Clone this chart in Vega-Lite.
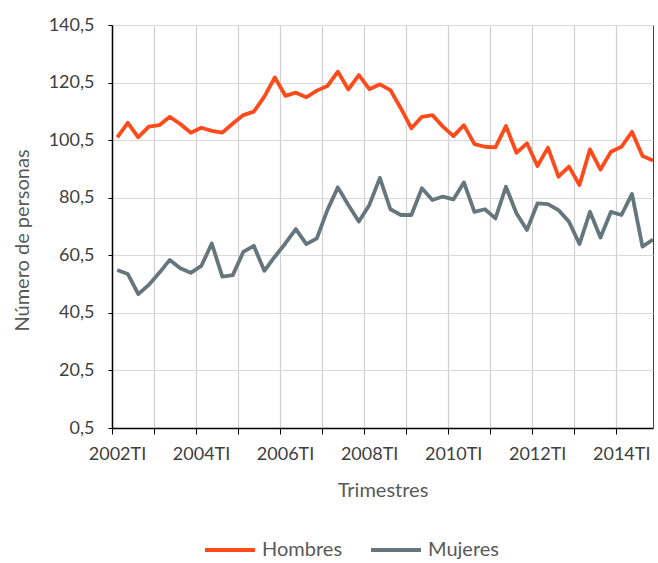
{
  "$schema": "https://vega.github.io/schema/vega-lite/v6.json",
  "width": 541,
  "height": 403,
  "autosize": "none",
  "padding": {"left": 112, "top": 25, "right": 5, "bottom": 135},
  "background": "white",
  "config": {"font": "Lato", "view": {"stroke": "#404040", "strokeWidth": 1}},
  "data": {"values": [
    {"t": 0, "trimestre": "2002TI", "serie": "Hombres", "valor": 101.5},
    {"t": 1, "trimestre": "2002TII", "serie": "Hombres", "valor": 106.5},
    {"t": 2, "trimestre": "2002TIII", "serie": "Hombres", "valor": 101.5},
    {"t": 3, "trimestre": "2002TIV", "serie": "Hombres", "valor": 105.2},
    {"t": 4, "trimestre": "2003TI", "serie": "Hombres", "valor": 105.7},
    {"t": 5, "trimestre": "2003TII", "serie": "Hombres", "valor": 108.6},
    {"t": 6, "trimestre": "2003TIII", "serie": "Hombres", "valor": 106.1},
    {"t": 7, "trimestre": "2003TIV", "serie": "Hombres", "valor": 103.1},
    {"t": 8, "trimestre": "2004TI", "serie": "Hombres", "valor": 104.8},
    {"t": 9, "trimestre": "2004TII", "serie": "Hombres", "valor": 103.7},
    {"t": 10, "trimestre": "2004TIII", "serie": "Hombres", "valor": 103.1},
    {"t": 11, "trimestre": "2004TIV", "serie": "Hombres", "valor": 106.3},
    {"t": 12, "trimestre": "2005TI", "serie": "Hombres", "valor": 109.2},
    {"t": 13, "trimestre": "2005TII", "serie": "Hombres", "valor": 110.4},
    {"t": 14, "trimestre": "2005TIII", "serie": "Hombres", "valor": 115.6},
    {"t": 15, "trimestre": "2005TIV", "serie": "Hombres", "valor": 122.3},
    {"t": 16, "trimestre": "2006TI", "serie": "Hombres", "valor": 115.9},
    {"t": 17, "trimestre": "2006TII", "serie": "Hombres", "valor": 117.0},
    {"t": 18, "trimestre": "2006TIII", "serie": "Hombres", "valor": 115.4},
    {"t": 19, "trimestre": "2006TIV", "serie": "Hombres", "valor": 117.7},
    {"t": 20, "trimestre": "2007TI", "serie": "Hombres", "valor": 119.3},
    {"t": 21, "trimestre": "2007TII", "serie": "Hombres", "valor": 124.3},
    {"t": 22, "trimestre": "2007TIII", "serie": "Hombres", "valor": 118.1},
    {"t": 23, "trimestre": "2007TIV", "serie": "Hombres", "valor": 123.1},
    {"t": 24, "trimestre": "2008TI", "serie": "Hombres", "valor": 118.2},
    {"t": 25, "trimestre": "2008TII", "serie": "Hombres", "valor": 119.9},
    {"t": 26, "trimestre": "2008TIII", "serie": "Hombres", "valor": 117.9},
    {"t": 27, "trimestre": "2008TIV", "serie": "Hombres", "valor": 111.5},
    {"t": 28, "trimestre": "2009TI", "serie": "Hombres", "valor": 104.6},
    {"t": 29, "trimestre": "2009TII", "serie": "Hombres", "valor": 108.6},
    {"t": 30, "trimestre": "2009TIII", "serie": "Hombres", "valor": 109.2},
    {"t": 31, "trimestre": "2009TIV", "serie": "Hombres", "valor": 105.2},
    {"t": 32, "trimestre": "2010TI", "serie": "Hombres", "valor": 101.9},
    {"t": 33, "trimestre": "2010TII", "serie": "Hombres", "valor": 105.7},
    {"t": 34, "trimestre": "2010TIII", "serie": "Hombres", "valor": 99.1},
    {"t": 35, "trimestre": "2010TIV", "serie": "Hombres", "valor": 98.2},
    {"t": 36, "trimestre": "2011TI", "serie": "Hombres", "valor": 98.0},
    {"t": 37, "trimestre": "2011TII", "serie": "Hombres", "valor": 105.4},
    {"t": 38, "trimestre": "2011TIII", "serie": "Hombres", "valor": 96.1},
    {"t": 39, "trimestre": "2011TIV", "serie": "Hombres", "valor": 99.4},
    {"t": 40, "trimestre": "2012TI", "serie": "Hombres", "valor": 91.5},
    {"t": 41, "trimestre": "2012TII", "serie": "Hombres", "valor": 97.9},
    {"t": 42, "trimestre": "2012TIII", "serie": "Hombres", "valor": 87.8},
    {"t": 43, "trimestre": "2012TIV", "serie": "Hombres", "valor": 91.3},
    {"t": 44, "trimestre": "2013TI", "serie": "Hombres", "valor": 84.9},
    {"t": 45, "trimestre": "2013TII", "serie": "Hombres", "valor": 97.3},
    {"t": 46, "trimestre": "2013TIII", "serie": "Hombres", "valor": 90.3},
    {"t": 47, "trimestre": "2013TIV", "serie": "Hombres", "valor": 96.5},
    {"t": 48, "trimestre": "2014TI", "serie": "Hombres", "valor": 98.2},
    {"t": 49, "trimestre": "2014TII", "serie": "Hombres", "valor": 103.4},
    {"t": 50, "trimestre": "2014TIII", "serie": "Hombres", "valor": 95.0},
    {"t": 51, "trimestre": "2014TIV", "serie": "Hombres", "valor": 93.4},
    {"t": 0, "trimestre": "2002TI", "serie": "Mujeres", "valor": 55.4},
    {"t": 1, "trimestre": "2002TII", "serie": "Mujeres", "valor": 54.0},
    {"t": 2, "trimestre": "2002TIII", "serie": "Mujeres", "valor": 47.0},
    {"t": 3, "trimestre": "2002TIV", "serie": "Mujeres", "valor": 50.2},
    {"t": 4, "trimestre": "2003TI", "serie": "Mujeres", "valor": 54.4},
    {"t": 5, "trimestre": "2003TII", "serie": "Mujeres", "valor": 58.9},
    {"t": 6, "trimestre": "2003TIII", "serie": "Mujeres", "valor": 56.0},
    {"t": 7, "trimestre": "2003TIV", "serie": "Mujeres", "valor": 54.4},
    {"t": 8, "trimestre": "2004TI", "serie": "Mujeres", "valor": 56.8},
    {"t": 9, "trimestre": "2004TII", "serie": "Mujeres", "valor": 64.6},
    {"t": 10, "trimestre": "2004TIII", "serie": "Mujeres", "valor": 53.1},
    {"t": 11, "trimestre": "2004TIV", "serie": "Mujeres", "valor": 53.6},
    {"t": 12, "trimestre": "2005TI", "serie": "Mujeres", "valor": 61.7},
    {"t": 13, "trimestre": "2005TII", "serie": "Mujeres", "valor": 63.8},
    {"t": 14, "trimestre": "2005TIII", "serie": "Mujeres", "valor": 55.1},
    {"t": 15, "trimestre": "2005TIV", "serie": "Mujeres", "valor": 60.0},
    {"t": 16, "trimestre": "2006TI", "serie": "Mujeres", "valor": 64.6},
    {"t": 17, "trimestre": "2006TII", "serie": "Mujeres", "valor": 69.6},
    {"t": 18, "trimestre": "2006TIII", "serie": "Mujeres", "valor": 64.4},
    {"t": 19, "trimestre": "2006TIV", "serie": "Mujeres", "valor": 66.4},
    {"t": 20, "trimestre": "2007TI", "serie": "Mujeres", "valor": 76.2},
    {"t": 21, "trimestre": "2007TII", "serie": "Mujeres", "valor": 84.1},
    {"t": 22, "trimestre": "2007TIII", "serie": "Mujeres", "valor": 78.0},
    {"t": 23, "trimestre": "2007TIV", "serie": "Mujeres", "valor": 72.2},
    {"t": 24, "trimestre": "2008TI", "serie": "Mujeres", "valor": 78.0},
    {"t": 25, "trimestre": "2008TII", "serie": "Mujeres", "valor": 87.4},
    {"t": 26, "trimestre": "2008TIII", "serie": "Mujeres", "valor": 76.5},
    {"t": 27, "trimestre": "2008TIV", "serie": "Mujeres", "valor": 74.5},
    {"t": 28, "trimestre": "2009TI", "serie": "Mujeres", "valor": 74.5},
    {"t": 29, "trimestre": "2009TII", "serie": "Mujeres", "valor": 83.8},
    {"t": 30, "trimestre": "2009TIII", "serie": "Mujeres", "valor": 79.7},
    {"t": 31, "trimestre": "2009TIV", "serie": "Mujeres", "valor": 80.9},
    {"t": 32, "trimestre": "2010TI", "serie": "Mujeres", "valor": 79.9},
    {"t": 33, "trimestre": "2010TII", "serie": "Mujeres", "valor": 85.8},
    {"t": 34, "trimestre": "2010TIII", "serie": "Mujeres", "valor": 75.6},
    {"t": 35, "trimestre": "2010TIV", "serie": "Mujeres", "valor": 76.5},
    {"t": 36, "trimestre": "2011TI", "serie": "Mujeres", "valor": 73.3},
    {"t": 37, "trimestre": "2011TII", "serie": "Mujeres", "valor": 84.3},
    {"t": 38, "trimestre": "2011TIII", "serie": "Mujeres", "valor": 75.1},
    {"t": 39, "trimestre": "2011TIV", "serie": "Mujeres", "valor": 69.3},
    {"t": 40, "trimestre": "2012TI", "serie": "Mujeres", "valor": 78.5},
    {"t": 41, "trimestre": "2012TII", "serie": "Mujeres", "valor": 78.3},
    {"t": 42, "trimestre": "2012TIII", "serie": "Mujeres", "valor": 76.2},
    {"t": 43, "trimestre": "2012TIV", "serie": "Mujeres", "valor": 72.2},
    {"t": 44, "trimestre": "2013TI", "serie": "Mujeres", "valor": 64.4},
    {"t": 45, "trimestre": "2013TII", "serie": "Mujeres", "valor": 75.6},
    {"t": 46, "trimestre": "2013TIII", "serie": "Mujeres", "valor": 66.7},
    {"t": 47, "trimestre": "2013TIV", "serie": "Mujeres", "valor": 75.6},
    {"t": 48, "trimestre": "2014TI", "serie": "Mujeres", "valor": 74.5},
    {"t": 49, "trimestre": "2014TII", "serie": "Mujeres", "valor": 81.8},
    {"t": 50, "trimestre": "2014TIII", "serie": "Mujeres", "valor": 63.5},
    {"t": 51, "trimestre": "2014TIV", "serie": "Mujeres", "valor": 66.0}
  ]},
  "mark": {"type": "line", "strokeWidth": 3.8, "clip": true, "strokeJoin": "round"},
  "encoding": {
    "x": {
      "field": "t",
      "type": "quantitative",
      "scale": {"domain": [-0.5, 51], "nice": false, "zero": false},
      "axis": {
        "values": [-0.5, 3.5, 7.5, 11.5, 15.5, 19.5, 23.5, 27.5, 31.5, 35.5, 39.5, 43.5, 47.5],
        "labelExpr": "(datum.value + 0.5) % 8 == 0 ? (2002 + (datum.value + 0.5) / 4) + 'TI' : ''",
        "labelOffset": 5,
        "labelOverlap": false,
        "labelFlush": false,
        "labelFontSize": 18,
        "labelColor": "#404040",
        "labelPadding": 11,
        "grid": true,
        "gridColor": "#D0D0D0",
        "gridWidth": 1.2,
        "domainColor": "#000000",
        "domainWidth": 1.5,
        "tickColor": "#000000",
        "tickSize": 6,
        "title": "Trimestres",
        "titleFontSize": 20,
        "titleFontWeight": "normal",
        "titleColor": "#595959",
        "titlePadding": 17
      }
    },
    "y": {
      "field": "valor",
      "type": "quantitative",
      "scale": {"domain": [0.5, 140.5], "nice": false, "zero": false},
      "axis": {
        "values": [0.5, 20.5, 40.5, 60.5, 80.5, 100.5, 120.5, 140.5],
        "labelExpr": "replace(format(datum.value, '.1f'), '.', ',')",
        "labelFontSize": 18,
        "labelColor": "#404040",
        "labelPadding": 14,
        "grid": true,
        "gridColor": "#D9D9D9",
        "gridWidth": 1.2,
        "domainColor": "#000000",
        "domainWidth": 1.5,
        "tickColor": "#000000",
        "tickSize": 4,
        "title": "Número de personas",
        "titleFontSize": 20,
        "titleFontWeight": "normal",
        "titleColor": "#595959",
        "titlePadding": 16,
        "titleY": 215
      }
    },
    "color": {
      "field": "serie",
      "type": "nominal",
      "scale": {"domain": ["Hombres", "Mujeres"], "range": ["#FF4A1C", "#66767D"]},
      "legend": {
        "orient": "none",
        "legendX": 91,
        "legendY": 498,
        "padding": 0,
        "direction": "horizontal",
        "title": null,
        "symbolType": "stroke",
        "symbolStrokeWidth": 4,
        "symbolSize": 2500,
        "labelFontSize": 20,
        "labelColor": "#595959",
        "labelOffset": 5,
        "columnPadding": 20
      }
    }
  }
}
